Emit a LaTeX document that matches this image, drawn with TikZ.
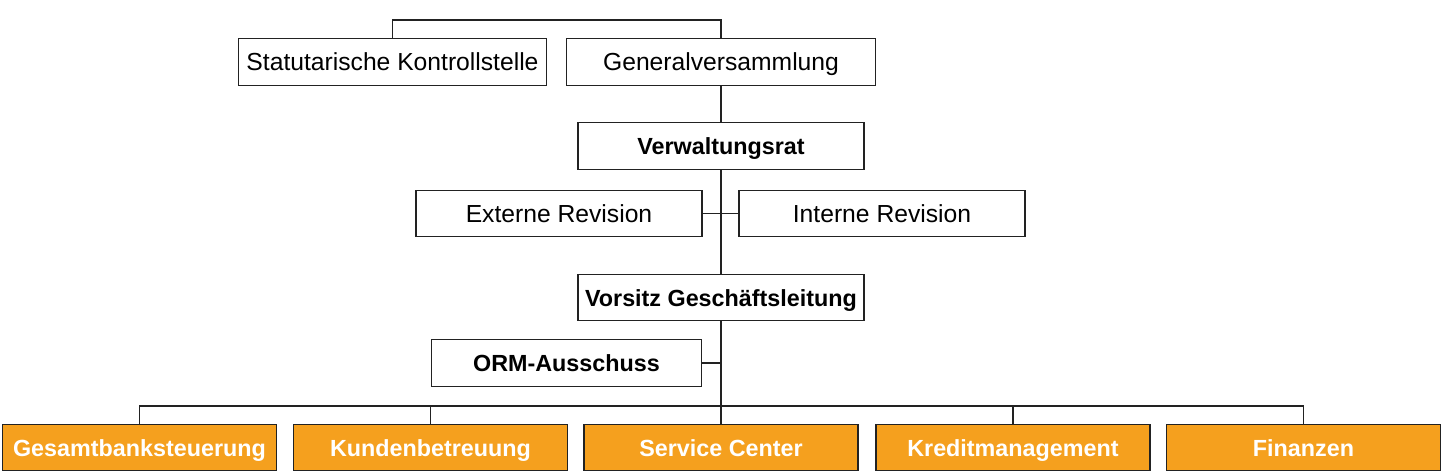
\documentclass[tikz,border=0pt]{standalone}
\usepackage{fontspec}
\setmainfont{Liberation Sans}
\usetikzlibrary{positioning}
\definecolor{orgorange}{HTML}{F5A01E}
\definecolor{orgline}{HTML}{222222}

\begin{document}
\begin{tikzpicture}[x=0.75pt,y=-0.75pt]
\tikzset{box/.style={draw=orgline,line width=0.9pt,inner sep=0pt,minimum height=35pt,
  text height=13pt,text depth=0pt,font=\fontsize{18.5}{22}\selectfont}}
\tikzset{headbox/.style={box,font=\fontsize{17.5}{21}\selectfont\bfseries}}
\tikzset{unitbox/.style={headbox,fill=orgorange,text=white,minimum width=205.5pt}}
\tikzset{link/.style={draw=orgline,line width=0.9pt}}
\useasboundingbox[fill=white] (0,0) rectangle (1442,472);
% Aufsicht
\node[box,minimum width=231.5pt] (skontr) at (392.5,62) {Statutarische Kontrollstelle};
\node[box,minimum width=231.5pt] (gv) at (721,62) {Generalversammlung};
\node[headbox,minimum width=214.5pt] (vr) at (721,146) {Verwaltungsrat};
\node[box,minimum width=214.5pt] (extrev) at (559,213.5) {Externe Revision};
\node[box,minimum width=214.5pt] (intrev) at (882,213.5) {Interne Revision};
% Leitung
\node[headbox,minimum width=214.5pt] (vgl) at (721,297.5) {Vorsitz Geschäftsleitung};
\node[headbox,minimum width=203pt] (orm) at (566.5,363) {ORM-Ausschuss};
% Bereiche
\node[unitbox,minimum width=206pt] (gbs) at (139.5,447.5) {Gesamtbanksteuerung};
\node[unitbox,minimum width=206pt] (kb) at (430.5,447.5) {Kundenbetreuung};
\node[unitbox] (sc) at (721,447.5) {Service Center};
\node[unitbox] (km) at (1013,447.5) {Kreditmanagement};
\node[unitbox] (fin) at (1303.5,447.5) {Finanzen};
\coordinate (top) at (556,20);
\coordinate (bus) at (721,406);
% Linien
\draw[link] (skontr.north) |- (top) -| (gv.north);
\draw[link] (gv.south) -- (vr.north);
\draw[link] (vr.south) -- (vgl.north);
\draw[link] (extrev.east) -- (intrev.west);
\draw[link] (vgl.south) -- (bus);
\draw[link] (orm.east) -- (orm.east -| vgl.south);
\draw[link] (gbs.north) |- (bus) -| (fin.north);
\draw[link] (kb.north) |- (bus);
\draw[link] (km.north) |- (bus);
\draw[link] (sc.north) -- (bus);
\end{tikzpicture}
\end{document}
